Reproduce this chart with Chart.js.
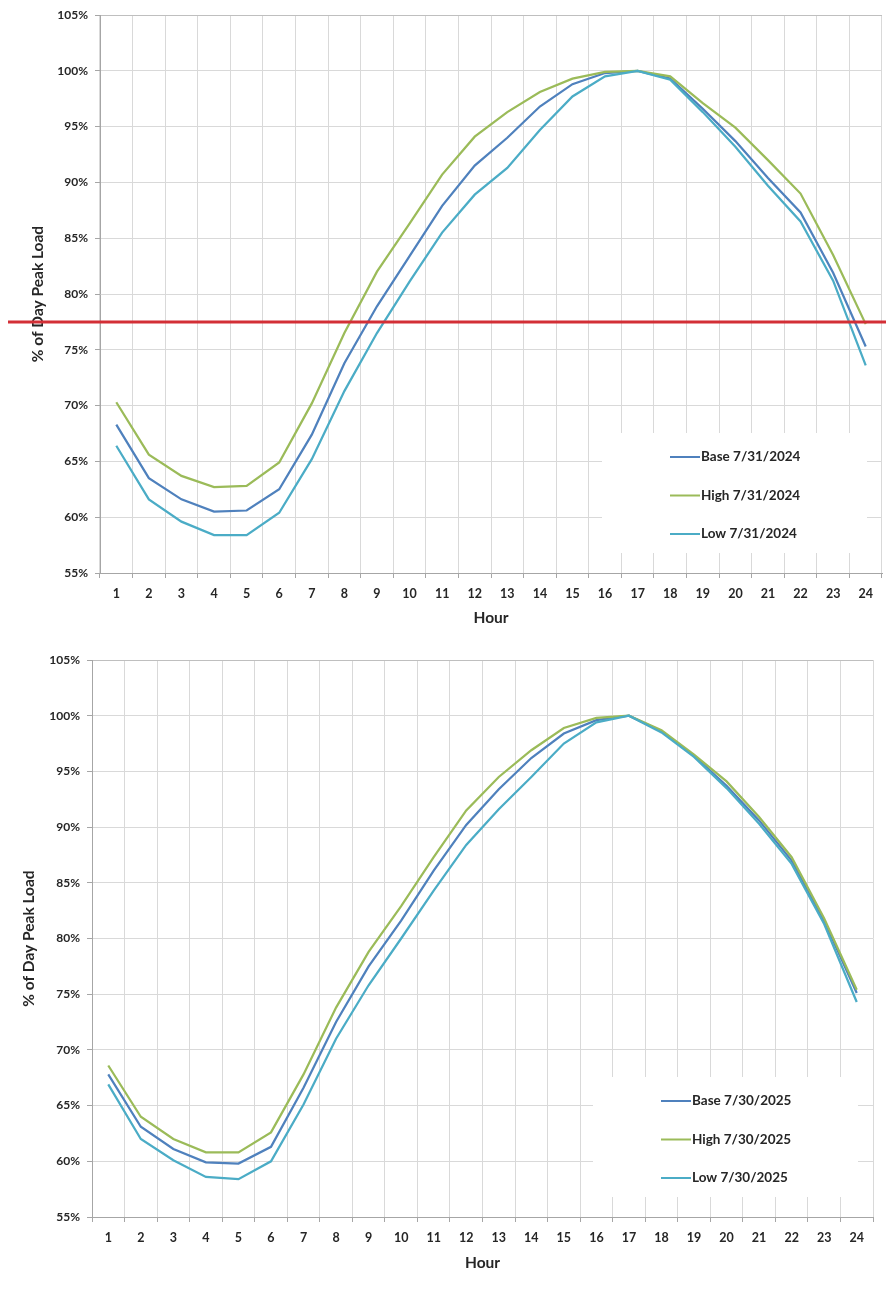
<!DOCTYPE html>
<html>
<head>
<meta charset="utf-8">
<script src="https://cdn.jsdelivr.net/npm/chart.js@4.4.1/dist/chart.umd.min.js"></script>
<style>
  body { margin: 0; background: #fff; }
  #wrap { position: relative; width: 886px; height: 1289px; }
  canvas { position: absolute; left: 0; display: block; }
  #chart-2024 { top: 0; }
  #chart-2025 { top: 640px; }
</style>
</head>
<body>
<div id="wrap">
  <canvas id="chart-2024" width="886" height="640"></canvas>
  <canvas id="chart-2025" width="886" height="649"></canvas>
</div>
<script>
// Hours on the x axis
const hours = ["1","2","3","4","5","6","7","8","9","10","11","12",
               "13","14","15","16","17","18","19","20","21","22","23","24"];

// 7/31/2024 profile (% of day peak)
const names2024 = ["Base 7/31/2024", "High 7/31/2024", "Low 7/31/2024"];
const base2024 = [68.3, 63.5, 61.6, 60.5, 60.6, 62.5, 67.4, 73.8, 78.9, 83.4, 87.9, 91.5,
                  94.0, 96.8, 98.8, 99.8, 100, 99.3, 96.6, 93.7, 90.4, 87.3, 81.9, 75.3];
const high2024 = [70.3, 65.6, 63.7, 62.7, 62.8, 64.9, 70.2, 76.5, 82.0, 86.3, 90.7, 94.1,
                  96.3, 98.1, 99.3, 99.9, 100, 99.5, 97.1, 94.9, 92.0, 89.0, 83.5, 77.3];
const low2024  = [66.4, 61.6, 59.6, 58.4, 58.4, 60.4, 65.2, 71.3, 76.5, 81.1, 85.5, 88.9,
                  91.3, 94.7, 97.7, 99.5, 100, 99.2, 96.3, 93.2, 89.7, 86.5, 81.2, 73.6];

// 7/30/2025 profile (% of day peak)
const names2025 = ["Base 7/30/2025", "High 7/30/2025", "Low 7/30/2025"];
const base2025 = [67.8, 63.1, 61.1, 59.9, 59.8, 61.3, 66.6, 72.5, 77.5, 81.6, 86.1, 90.2,
                  93.4, 96.2, 98.4, 99.6, 100, 98.6, 96.4, 93.7, 90.6, 87.0, 81.6, 75.1];
const high2025 = [68.6, 64.0, 62.0, 60.8, 60.8, 62.6, 67.8, 73.8, 78.8, 82.9, 87.3, 91.5,
                  94.5, 96.9, 98.9, 99.8, 100, 98.7, 96.5, 94.1, 90.9, 87.3, 81.8, 75.4];
const low2025  = [66.9, 62.0, 60.1, 58.6, 58.4, 60.0, 65.1, 71.0, 75.8, 80.0, 84.3, 88.4,
                  91.6, 94.5, 97.5, 99.4, 100, 98.5, 96.3, 93.5, 90.3, 86.7, 81.3, 74.3];

// Red marker line across the first chart
const redLineValue = 77.5;

const seriesColors = ["#4F81BD", "#9BBB59", "#4BACC6"];
const textColor = "#262626";

Chart.defaults.font.family = "Lato, 'Open Sans', sans-serif";

// Legend drawn as a white box inside the plot area (bottom right)
const boxLegend = {
  id: "boxLegend",
  afterDatasetsDraw(chart) {
    const { ctx, chartArea } = chart;
    const left = chartArea.right - 280;
    const top = chartArea.bottom - 140;
    ctx.save();
    ctx.fillStyle = "#fff";
    ctx.fillRect(left, top, 265, 120);
    ctx.font = "bold 13.5px Lato";
    ctx.textBaseline = "middle";
    chart.data.datasets.forEach((ds, i) => {
      const y = top + 24 + i * 38.5;
      ctx.strokeStyle = ds.borderColor;
      ctx.lineWidth = 2;
      ctx.beginPath();
      ctx.moveTo(left + 68, y);
      ctx.lineTo(left + 98, y);
      ctx.stroke();
      ctx.fillStyle = textColor;
      ctx.fillText(ds.label, left + 99, y);
    });
    ctx.restore();
  }
};

const redLine = {
  id: "redLine",
  afterDraw(chart) {
    const y = chart.scales.y.getPixelForValue(redLineValue);
    const ctx = chart.ctx;
    ctx.save();
    ctx.strokeStyle = "#d32f36";
    ctx.lineWidth = 3;
    ctx.beginPath();
    ctx.moveTo(8, y);
    ctx.lineTo(chart.width, y);
    ctx.stroke();
    ctx.restore();
  }
};

function makeChart(id, names, base, high, low, lay, extraPlugins) {
  const series = [base, high, low];
  new Chart(document.getElementById(id), {
    type: "line",
    data: {
      labels: hours,
      datasets: series.map((d, i) => ({
        label: names[i],
        data: d,
        borderColor: seriesColors[i],
        backgroundColor: seriesColors[i],
        order: 3 - i
      }))
    },
    options: {
      responsive: false,
      animation: false,
      layout: { padding: { top: lay.top, right: lay.right, left: 0, bottom: 0 } },
      elements: {
        line: { borderWidth: 2.25, tension: 0 },
        point: { radius: 0 }
      },
      plugins: { legend: { display: false }, tooltip: { enabled: false } },
      scales: {
        x: {
          offset: true,
          grid: { offset: true, color: "#d9d9d9", tickLength: 5, tickColor: "#a6a6a6" },
          border: { color: "#a6a6a6" },
          ticks: {
            padding: 8, color: textColor, maxRotation: 0, autoSkip: false,
            font: { size: 12.5, weight: "bold" }
          },
          title: {
            display: true, text: "Hour", color: textColor,
            font: { size: 15.5, weight: "bold" },
            padding: { top: 0, bottom: lay.xTitlePad }
          },
          afterFit: s => { s.height = lay.xHeight; }
        },
        y: {
          min: 55,
          max: 105,
          grid: {
            color: c => (c.tick && c.tick.value === 105) ? "#bfbfbf" : "#d9d9d9",
            tickLength: 5, tickColor: "#a6a6a6"
          },
          border: { color: "#a6a6a6" },
          ticks: {
            stepSize: 5, padding: 7, color: textColor,
            font: { size: 12, weight: "bold" },
            callback: v => v + "%"
          },
          title: {
            display: true, text: "% of Day Peak Load", color: textColor,
            font: { size: 15.5, weight: "bold" },
            padding: { top: lay.yTitlePad, bottom: 0 }
          },
          afterFit: s => { s.width = lay.yWidth; }
        }
      }
    },
    plugins: [boxLegend].concat(extraPlugins || [])
  });
}

makeChart("chart-2024", names2024, base2024, high2024, low2024,
  { top: 15, right: 4, yWidth: 100, xHeight: 67, xTitlePad: 13, yTitlePad: 29 },
  [redLine]);

makeChart("chart-2025", names2025, base2025, high2025, low2025,
  { top: 20, right: 13, yWidth: 92, xHeight: 72, xTitlePad: 17, yTitlePad: 20 });
</script>
</body>
</html>
